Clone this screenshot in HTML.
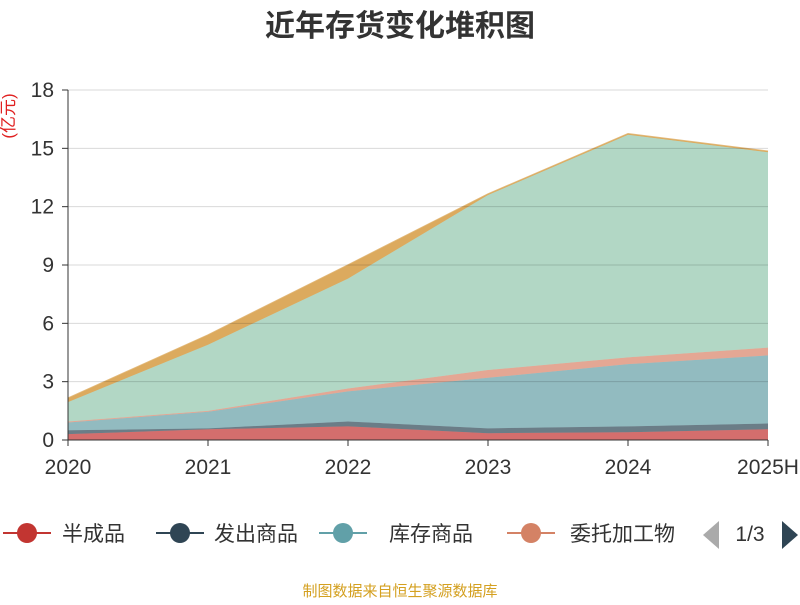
<!DOCTYPE html>
<html><head><meta charset="utf-8"><style>
body{margin:0;background:#fff;font-family:"Liberation Sans","Noto Sans CJK SC",sans-serif}
</style></head><body>
<svg width="800" height="600" xmlns="http://www.w3.org/2000/svg" style="font-family:'Liberation Sans','Noto Sans CJK SC',sans-serif">
<text x="400" y="36" text-anchor="middle" font-size="30" font-weight="bold" fill="#333">近年存货变化堆积图</text>
<text transform="translate(14,116) rotate(-90)" text-anchor="middle" font-size="17" fill="#e02020">(亿元)</text>
<g id="grid"></g><g id="areas"></g><g id="axes"></g>
<g id="legend"></g>
<text x="400" y="596" text-anchor="middle" font-size="15" fill="#d4a020">制图数据来自恒生聚源数据库</text>
</svg>
<script>
const categories=["2020","2021","2022","2023","2024","2025H"];
const seriesNames=["半成品","发出商品","库存商品","委托加工物资","原材料","其他"];
const s0=[0.3,0.55,0.7,0.35,0.4,0.55];
const s1=[0.2,0.05,0.25,0.25,0.3,0.3];
const s2=[0.4,0.85,1.55,2.6,3.2,3.5];
const s3=[0.05,0.05,0.15,0.4,0.35,0.4];
const s4=[1.0,3.4,5.65,9.0,11.45,10.05];
const s5=[0.2,0.5,0.7,0.05,0.05,0.05];
const yTicks=[0,3,6,9,12,15,18];
const colors=["#d46e6d","#6b7d87","#92bbc0","#e4a794","#b2d7c5","#dcaa5e"];
const NS="http://www.w3.org/2000/svg";
const X=i=>68+i*140, Y=v=>440-v*350/18;
function el(t,a,p){const e=document.createElementNS(NS,t);for(const k in a)e.setAttribute(k,a[k]);document.getElementById(p).appendChild(e);return e;}
const series=[s0,s1,s2,s3,s4,s5];
let base=categories.map(()=>0);
series.forEach((s,k)=>{
  const top=base.map((b,i)=>b+s[i]);
  let d="M"+top.map((v,i)=>X(i)+","+Y(v)).join(" L");
  for(let i=categories.length-1;i>=0;i--)d+=" L"+X(i)+","+Y(base[i]);
  const p=el("path",{d:d+"Z",fill:colors[k]},"areas");
  
  
  const l=el("polyline",{points:top.map((v,i)=>X(i)+","+Y(v)).join(" "),fill:"none",stroke:colors[k],"stroke-width":1.5,"stroke-opacity":0.8},"areas");
  
  
  base=top;
});
yTicks.forEach(t=>{
  const g=el("line",{x1:68,x2:768,y1:Y(t),y2:Y(t),stroke:"rgba(0,0,0,0.15)"},"grid");
  
  
  const tk=el("line",{x1:62,x2:68,y1:Y(t),y2:Y(t),stroke:"#333"},"axes");
  
  
  const tx=el("text",{x:54,y:Y(t)+7,"text-anchor":"end","font-size":21,fill:"#333"},"axes");
  tx.textContent=t;
  
  
});
document.getElementById("areas").parentNode.appendChild(document.getElementById("grid"));
document.getElementById("grid").parentNode.appendChild(document.getElementById("axes"));
let ax=el("line",{x1:68,x2:68,y1:90,y2:440,stroke:"#333"},"axes");

ax=el("line",{x1:68,x2:768,y1:440,y2:440,stroke:"#333"},"axes");

categories.forEach((c,i)=>{
  const tk=el("line",{x1:X(i),x2:X(i),y1:440,y2:446,stroke:"#333"},"axes");
  
  
  const tx=el("text",{x:X(i),y:474,"text-anchor":"middle","font-size":21,fill:"#333"},"axes");
  tx.textContent=c;
  
  
});
const legX=[27,180,343,531],legTX=[62,214,389,570],legC=["#c23531","#2f4554","#61a0a8","#d48265"];
for(let i=0;i<4;i++){
  const g=el("g",{},"legend");
  
  
  g.id="lg"+i;
  el("line",{x1:legX[i]-24,x2:legX[i]+24,y1:533,y2:533,stroke:legC[i],"stroke-width":2},"lg"+i);
  el("circle",{cx:legX[i],cy:533,r:10,fill:legC[i]},"lg"+i);
  const t=el("text",{x:legTX[i],y:541,"font-size":21,fill:"#333"},"lg"+i);
  t.textContent=i==3?"委托加工物":seriesNames[i];
}
let a=el("polygon",{points:"703,535 719,521 719,549",fill:"#aaa"},"legend");

const pg=el("text",{x:750,y:541,"text-anchor":"middle","font-size":21,fill:"#333"},"legend");
pg.textContent="1/3";
a=el("polygon",{points:"798,535 782,521 782,549",fill:"#2f4554"},"legend");

</script>
</body></html>
